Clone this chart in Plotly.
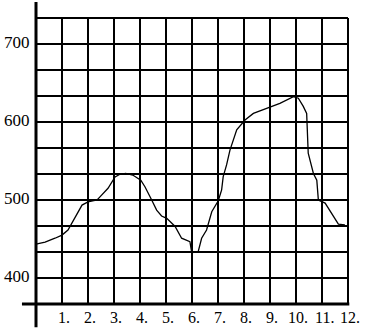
import plotly.graph_objects as go

# Curve data
x_vals = [0, 0.35, 0.73, 1.0, 1.23, 1.5, 1.77, 2.0, 2.35, 2.46, 2.77, 3.04, 3.23, 3.45,
          3.72, 4.03, 4.19, 4.45, 4.64, 4.83, 5.03, 5.35, 5.6, 5.92, 5.99, 6.24, 6.37,
          6.56, 6.76, 7.01, 7.08, 7.14, 7.2, 7.33, 7.46, 7.72, 8.04, 8.36, 8.87, 9.38,
          9.9, 10.09, 10.28, 10.41, 10.47, 10.67, 10.8, 10.86, 11.12, 11.37, 11.63, 11.88]
y_vals = [443.5, 446, 451, 455, 461.5, 478, 493.5, 497.5, 500, 504, 515, 529.5, 533, 534,
          532, 525.5, 517, 500, 487, 479.5, 476.5, 466, 451, 446.5, 432.5, 434, 451,
          461.5, 485, 499, 508.5, 513, 530, 545, 564, 590, 602.5, 611, 617.5, 624,
          632.5, 630.5, 620, 611, 560, 534, 525.5, 500, 496, 483, 469, 468]

x_ticks = list(range(1, 13))
x_tick_labels = [f"{i}." for i in x_ticks]
y_ticks = [400, 500, 600, 700]
y_tick_labels = ["400", "500", "600", "700"]

# grid geometry (data units)
y_grid_min, y_grid_max, y_grid_step = 366.667, 733.333, 33.333
x_grid_max = 12

shapes = []
# horizontal grid lines
n_h = round((y_grid_max - y_grid_min) / y_grid_step)
for k in range(1, n_h + 1):
    yv = y_grid_min + k * y_grid_step
    shapes.append(dict(type="line", xref="x", yref="y", x0=0, x1=x_grid_max, y0=yv, y1=yv,
                       line=dict(color="black", width=2)))
# vertical grid lines
for xv in x_ticks:
    shapes.append(dict(type="line", xref="x", yref="y", x0=xv, x1=xv, y0=y_grid_min, y1=y_grid_max,
                       line=dict(color="black", width=2)))
# axes
shapes.append(dict(type="line", xref="x", yref="y", x0=-0.54, x1=12.05, y0=y_grid_min, y1=y_grid_min,
                   line=dict(color="black", width=3)))
shapes.append(dict(type="line", xref="x", yref="y", x0=0, x1=0, y0=337, y1=754,
                   line=dict(color="black", width=3)))

annotations = []
for xv, lab in zip(x_ticks, x_tick_labels):
    annotations.append(dict(x=xv, y=349.5, xref="x", yref="y", text=lab, showarrow=False,
                            xshift=2, font=dict(family="Liberation Serif", size=16, color="black")))
for yv, lab in zip(y_ticks, y_tick_labels):
    annotations.append(dict(x=-0.74, y=yv, xref="x", yref="y", text=lab, showarrow=False,
                            yshift=2, font=dict(family="Liberation Serif", size=17, color="black")))

fig = go.Figure()
fig.add_trace(go.Scatter(x=x_vals, y=y_vals, mode="lines",
                         line=dict(color="black", width=1.3), hoverinfo="skip"))

fig.update_layout(
    width=371, height=330,
    margin=dict(l=0, r=0, t=0, b=0),
    paper_bgcolor="white", plot_bgcolor="white",
    showlegend=False,
    xaxis=dict(range=[-36 / 26, 335 / 26], visible=False, fixedrange=True),
    yaxis=dict(range=[333.33, 756.41], visible=False, fixedrange=True),
    shapes=shapes,
    annotations=annotations,
)

fig.write_html("out.html")
